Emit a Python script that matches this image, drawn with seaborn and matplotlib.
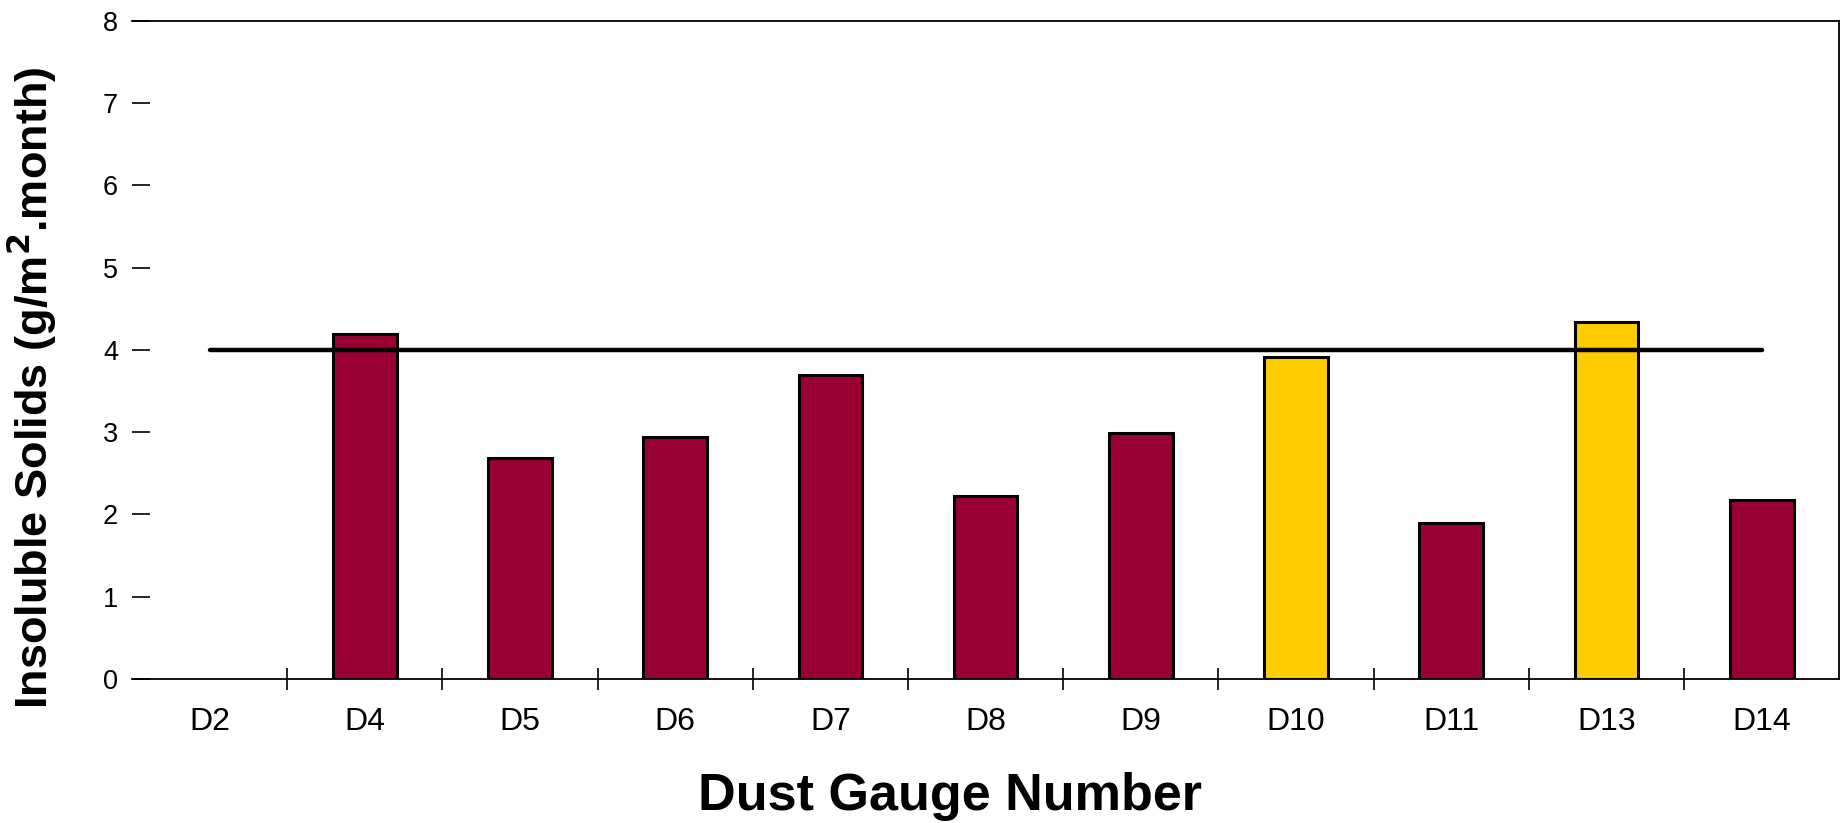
import numpy as np
import pandas as pd
import matplotlib
matplotlib.use("Agg")
import matplotlib.pyplot as plt
from matplotlib.ticker import FixedLocator
import seaborn as sns

categories = ["D2", "D4", "D5", "D6", "D7", "D8", "D9", "D10", "D11", "D13", "D14"]
insoluble = [np.nan, 4.2, 2.69, 2.94, 3.69, 2.23, 2.99, 3.91, 1.9, 4.34, 2.17]
group = ["a", "a", "a", "a", "a", "a", "a", "b", "a", "b", "a"]
standard = [4, 4, 4, 4, 4, 4, 4, 4, 4, 4, 4]
palette = {"a": "#990033", "b": "#FFCC00"}
yticks = [0, 1, 2, 3, 4, 5, 6, 7, 8]

sns.set_theme(style="white")
plt.rcParams["font.family"] = ["Liberation Sans", "DejaVu Sans"]
plt.rcParams["text.color"] = "black"
plt.rcParams["axes.labelcolor"] = "black"
plt.rcParams["xtick.color"] = "black"
plt.rcParams["ytick.color"] = "black"

df = pd.DataFrame({"gauge": categories, "value": insoluble, "group": group,
                   "standard": standard})

fig = plt.figure(figsize=(18.43, 8.23), dpi=100)
ax = fig.add_axes([0.0716, 0.175, 0.9264, 0.7995])

sns.barplot(data=df, x="gauge", y="value", hue="group", palette=palette,
            saturation=1, dodge=False, width=0.41, edgecolor="black",
            linewidth=2.2, legend=False, ax=ax, zorder=2)
sns.pointplot(data=df, x="gauge", y="standard", color="black", markers="",
              linewidth=3.2, ax=ax, zorder=3)

ax.set_xlim(-0.5, len(categories) - 0.5)
ax.set_ylim(0, 8)
ax.set_yticks(yticks)
ax.set_yticklabels([str(t) for t in yticks])

ax.spines["left"].set_visible(False)
for s in ["top", "right", "bottom"]:
    ax.spines[s].set_visible(True)
    ax.spines[s].set_color("black")
    ax.spines[s].set_linewidth(1.3)

ax.tick_params(axis="y", direction="in", length=13, width=1.2, color="black",
               labelsize=19.5, pad=10, left=True, labelcolor="black")
ax.tick_params(axis="x", which="major", length=0, labelsize=23, pad=20,
               labelcolor="black")
ax.xaxis.set_minor_locator(FixedLocator(np.arange(0.5, len(categories) - 1, 1.0)))
ax.tick_params(axis="x", which="minor", direction="inout", length=16, width=1.2,
               color="black", bottom=True)

ax.set_xlabel("Dust Gauge Number", fontsize=37.5, fontweight="bold",
              color="black")
ax.set_ylabel("Insoluble Solids (g/m$^\\mathbf{2}$.month)", fontsize=32.5,
              fontweight="bold", color="black")
ax.xaxis.set_label_coords(0.479, -0.141)
ax.yaxis.set_label_coords(-0.0425, 0.443)
ax.grid(False)

fig.savefig("out.png", dpi=100)
